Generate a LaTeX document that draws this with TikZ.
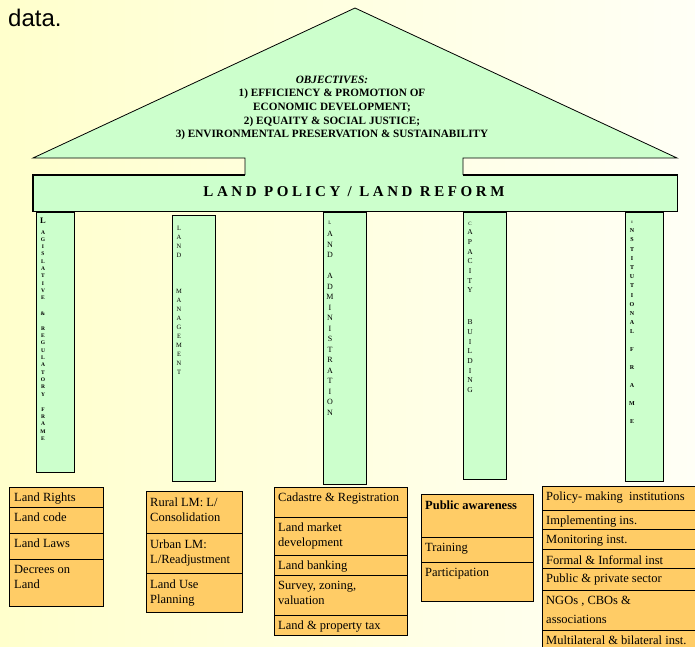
\documentclass[tikz,border=0pt]{standalone}
\usepackage{fontspec}
\setmainfont{Liberation Serif}
\newfontfamily\slidefont{Liberation Sans}
\usetikzlibrary{calc}
\definecolor{slideyellow}{HTML}{FFFFCC}
\definecolor{slidelight}{HTML}{FFFFF6}
\definecolor{pillargreen}{HTML}{CCFFCC}
\definecolor{cellorange}{HTML}{FFCC66}
\tikzset{
  pillar/.style={draw=black, line width=1.2pt, fill=pillargreen, inner sep=0pt, anchor=north west},
  cell/.style={draw=black, line width=0.8pt, fill=cellorange, inner sep=0pt, anchor=north west},
  celltext/.style={anchor=north west, inner sep=0pt, align=left, font=\fontsize{12.5}{15}\selectfont},
  letters/.style={anchor=north, inner sep=0pt, align=center}
}
\begin{document}
\begin{tikzpicture}[x=1pt,y=-1pt]
    \useasboundingbox (0,0) rectangle (695,646);
    \shade[left color=slideyellow, right color=slidelight] (0,0) rectangle (695,646);
    \node[anchor=base west, inner sep=0pt, font=\slidefont\fontsize{24}{24}\selectfont] (caption) at (8,26) {data.};

    % roof and beam
    \fill[pillargreen] (33,158) -- (355,8) -- (677,158) -- (463,158) -- (463,176) -- (245,176) -- (245,158) -- cycle;
    \draw[line width=0.8pt] (245,175) -- (245,158) -- (33,158) -- (355,8) -- (677,158) -- (463,158) -- (463,175);
    \node[font=\bfseries\fontsize{11.2}{13.7}\selectfont, align=center, inner sep=0pt] (objectives) at (332,108)
        {\textit{OBJECTIVES:}\\1) EFFICIENCY \& PROMOTION OF\\ECONOMIC DEVELOPMENT;\\2) EQUAITY \& SOCIAL JUSTICE;\\3) ENVIRONMENTAL PRESERVATION \& SUSTAINABILITY};
    \node[fill=pillargreen, minimum width=644, minimum height=36, inner sep=0pt, anchor=north west] (beam) at (33,175) {};
    \draw[line width=1.2pt] ($(beam.north west)+(212,0)$) -- (beam.north west) -- (beam.south west) -- (beam.south east) -- (beam.north east) -- ++(-214,0);
    \node[font=\bfseries\fontsize{15}{15}\selectfont\addfontfeatures{LetterSpace=24}, inner sep=0pt] (policy) at (354,192) {LAND POLICY / LAND REFORM};

    % pillars
    \node[pillar, minimum width=38, minimum height=260] (legis) at (36,212) {};
    \node[pillar, minimum width=43, minimum height=266] (manage) at (172,215) {};
    \node[pillar, minimum width=43, minimum height=272] (admin) at (323,212) {};
    \node[pillar, minimum width=43, minimum height=267] (capacity) at (463,212) {};
    \node[pillar, minimum width=38, minimum height=269] (institut) at (625,212) {};

    \node[letters, font=\bfseries\fontsize{5.5}{7.3}\selectfont] (legis-l) at (43,218)
        {{\fontsize{8.5}{8.5}\selectfont L}\\[3pt]A\\G\\I\\S\\L\\A\\T\\I\\V\\E\\[8pt]\&\\[8pt]R\\E\\G\\U\\L\\A\\T\\O\\R\\Y\\[8pt]F\\R\\A\\M\\E};
    \node[letters, font=\fontsize{6.5}{9}\selectfont] (manage-l) at (179,226)
        {L\\A\\N\\D\\[27pt]M\\A\\N\\A\\G\\E\\M\\E\\N\\T};
    \node[letters, font=\fontsize{8}{10.5}\selectfont] (admin-l) at (330,221.5)
        {{\fontsize{5}{5}\selectfont L}\\[1.5pt]A\\N\\D\\[10.5pt]A\\D\\M\\I\\N\\I\\S\\T\\R\\A\\T\\I\\O\\N};
    \node[letters, font=\fontsize{7.5}{9.7}\selectfont] (capacity-l) at (470,221.5)
        {{\fontsize{5}{5}\selectfont C}\\A\\P\\A\\C\\I\\T\\Y\\[22pt]B\\U\\I\\L\\D\\I\\N\\G};
    \node[letters, font=\bfseries\fontsize{6}{9.2}\selectfont] (institut-l) at (632,221)
        {{\fontsize{3.5}{3.5}\selectfont I}\\N\\S\\T\\I\\T\\U\\T\\I\\O\\N\\A\\L\\[8pt]F\\[9pt]R\\[9pt]A\\[9pt]M\\[9pt]E};

    % boxes under the pillars
    \foreach \top/\h/\txt [count=\i] in {487/20/Land Rights, 507/26/Land code, 533/26/Land Laws, 559/47/{Decrees on\\Land}} {
        \node[cell, minimum width=94, minimum height=\h] (legis-\i) at (9,\top) {};
        \node[celltext] (legis-t\i) at ([xshift=5pt,yshift=-6pt]legis-\i.north west) {\txt};
    }
    \foreach \top/\h/\txt [count=\i] in {491/42/{Rural LM: L/\\Consolidation}, 533/40/{Urban LM:\\L/Readjustment}, 573/39/{Land Use\\Planning}} {
        \node[cell, minimum width=96, minimum height=\h] (manage-\i) at (146,\top) {};
        \node[celltext] (manage-t\i) at ([xshift=4pt,yshift=-7pt]manage-\i.north west) {\txt};
    }
    \foreach \top/\h/\txt [count=\i] in {487/30/Cadastre \& Registration, 517/38/{Land market\\development}, 555/20/Land banking, 575/40/{Survey, zoning,\\valuation}, 615/20/Land \& property tax} {
        \node[cell, minimum width=133, minimum height=\h] (admin-\i) at (274,\top) {};
        \node[celltext] (admin-t\i) at ([xshift=4pt,yshift=-6pt]admin-\i.north west) {\txt};
    }
    \foreach \top/\h/\txt [count=\i] in {494/43/\textbf{Public awareness}, 537/25/Training, 562/39/Participation} {
        \node[cell, minimum width=112, minimum height=\h] (capacity-\i) at (421,\top) {};
        \node[celltext] (capacity-t\i) at ([xshift=4pt,yshift=-6.5pt]capacity-\i.north west) {\txt};
    }
    \foreach \top/\h/\txt [count=\i] in {486/24/Policy- making\ \ institutions, 510/19/Implementing ins., 529/20/Monitoring inst., 549/19/Formal \& Informal inst, 568/22/Public \& private sector, 590/40/{NGOs , CBOs \&\\[4pt]associations}, 630/20/Multilateral \& bilateral inst.} {
        \node[cell, minimum width=160, minimum height=\h] (institut-\i) at (542,\top) {};
        \node[celltext] (institut-t\i) at ([xshift=4pt,yshift=-6pt]institut-\i.north west) {\txt};
    }
\end{tikzpicture}
\end{document}
